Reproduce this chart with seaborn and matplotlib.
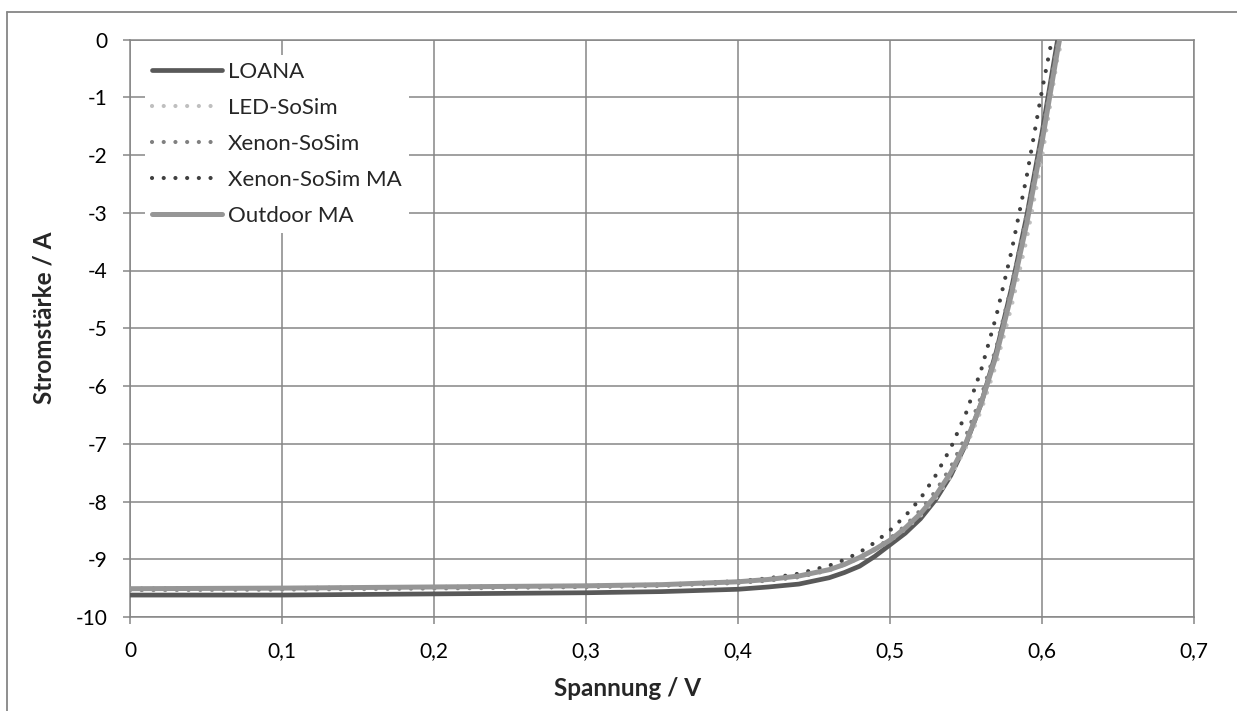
import matplotlib
matplotlib.use("Agg")
import matplotlib.pyplot as plt
import seaborn as sns
from matplotlib.lines import Line2D

sns.set_theme(style="white")
plt.rcParams['font.family'] = ['Lato', 'DejaVu Sans']

# ---- data ----
v_loana = [0.0, 0.1, 0.2, 0.3, 0.35, 0.4, 0.42, 0.44, 0.46, 0.47, 0.48, 0.49, 0.50, 0.51,
           0.52, 0.53, 0.54, 0.55, 0.56, 0.57, 0.58, 0.59, 0.60, 0.61, 0.612]
i_loana = [-9.62, -9.62, -9.60, -9.58, -9.56, -9.52, -9.48, -9.43, -9.32, -9.23, -9.12, -8.95,
           -8.75, -8.55, -8.30, -7.97, -7.55, -7.00, -6.30, -5.40, -4.30, -3.05, -1.62, -0.05, 0.2]

v_led = [0.0, 0.1, 0.2, 0.3, 0.35, 0.4, 0.42, 0.44, 0.46, 0.47, 0.48, 0.49, 0.50, 0.51,
         0.52, 0.53, 0.54, 0.55, 0.56, 0.57, 0.58, 0.59, 0.60, 0.61, 0.616]
i_led = [-9.54, -9.53, -9.51, -9.48, -9.45, -9.40, -9.36, -9.29, -9.18, -9.09, -8.98, -8.84,
         -8.68, -8.48, -8.25, -7.95, -7.56, -7.06, -6.42, -5.62, -4.62, -3.45, -2.05, -0.35, 0.3]

v_xenon = [0.0, 0.1, 0.2, 0.3, 0.35, 0.4, 0.42, 0.44, 0.46, 0.47, 0.48, 0.49, 0.50, 0.51,
           0.52, 0.53, 0.54, 0.55, 0.56, 0.57, 0.58, 0.59, 0.60, 0.61, 0.613]
i_xenon = [-9.53, -9.52, -9.50, -9.48, -9.46, -9.41, -9.37, -9.31, -9.19, -9.09, -8.97, -8.82,
           -8.64, -8.42, -8.15, -7.82, -7.40, -6.86, -6.18, -5.32, -4.25, -3.02, -1.65, -0.10, 0.2]

v_xenon_ma = [0.0, 0.1, 0.2, 0.3, 0.35, 0.4, 0.42, 0.44, 0.46, 0.47, 0.48, 0.49, 0.50, 0.51,
              0.52, 0.53, 0.54, 0.55, 0.56, 0.57, 0.58, 0.59, 0.60, 0.608]
i_xenon_ma = [-9.51, -9.50, -9.48, -9.46, -9.44, -9.38, -9.33, -9.25, -9.11, -9.01, -8.88, -8.71,
              -8.50, -8.25, -7.95, -7.55, -7.07, -6.47, -5.72, -4.78, -3.66, -2.36, -0.88, 0.2]

v_outdoor = [0.0, 0.1, 0.2, 0.3, 0.35, 0.4, 0.42, 0.44, 0.46, 0.47, 0.48, 0.49, 0.50, 0.51,
             0.52, 0.53, 0.54, 0.55, 0.56, 0.57, 0.58, 0.59, 0.60, 0.61, 0.613]
i_outdoor = [-9.51, -9.50, -9.48, -9.46, -9.44, -9.39, -9.35, -9.29, -9.18, -9.09, -8.97, -8.83,
             -8.67, -8.46, -8.21, -7.90, -7.50, -6.98, -6.30, -5.46, -4.40, -3.18, -1.78, -0.22, 0.2]

x_ticks = [0.0, 0.1, 0.2, 0.3, 0.4, 0.5, 0.6, 0.7]
x_ticklabels = ["0", "0,1", "0,2", "0,3", "0,4", "0,5", "0,6", "0,7"]
y_ticks = [0, -1, -2, -3, -4, -5, -6, -7, -8, -9, -10]
y_ticklabels = ["0", "-1", "-2", "-3", "-4", "-5", "-6", "-7", "-8", "-9", "-10"]

# ---- figure ----
W, H = 1237, 711
fig = plt.figure(figsize=(W / 100, H / 100), dpi=100)
ax = fig.add_axes([130 / W, 1 - 617 / H, (1194 - 130) / W, (617 - 39.5) / H])

dot = (0, (0.01, 2.8))
series = [
    (v_loana, i_loana, "LOANA", "#595959", "-", 3.4),
    (v_led, i_led, "LED-SoSim", "#bfbfbf", dot, 3.0),
    (v_xenon, i_xenon, "Xenon-SoSim", "#808080", dot, 3.0),
    (v_xenon_ma, i_xenon_ma, "Xenon-SoSim MA", "#404040", dot, 3.0),
    (v_outdoor, i_outdoor, "Outdoor MA", "#969696", "-", 3.6),
]
for vx, iy, lab, col, ls, lw in series:
    sns.lineplot(x=vx, y=iy, ax=ax, label=lab, color=col, linestyle=ls, linewidth=lw,
                 dash_capstyle="round", solid_capstyle="round", sort=False,
                 estimator=None, zorder=3)

ax.set_xlim(0, 0.7)
ax.set_ylim(-10, 0)
ax.set_xticks(x_ticks)
ax.set_xticklabels(x_ticklabels)
ax.set_yticks(y_ticks)
ax.set_yticklabels(y_ticklabels)

gcol = "#868686"
ax.grid(True, color=gcol, linewidth=1.1)
ax.set_axisbelow(True)
for s in ax.spines.values():
    s.set_color(gcol)
    s.set_linewidth(1.1)
ax.tick_params(axis="both", which="both", direction="out", length=5, width=1.1,
               color=gcol, labelsize=15, labelcolor="black",
               bottom=True, left=True)
ax.tick_params(axis="x", pad=12)
ax.tick_params(axis="y", pad=11)

ax.set_xlabel("Spannung / V", fontsize=17.5, fontweight="bold")
ax.set_ylabel("Stromstärke / A", fontsize=17.5, fontweight="bold")
ax.xaxis.set_label_coords((628 - 130) / 1064, -(677 - 617) / 577.5)
ax.yaxis.set_label_coords((56 - 130) / 1064, 1 - (318 - 39.5) / 577.5)

leg = ax.legend(loc="upper left", bbox_to_anchor=(0.004, 0.992), frameon=True,
                fontsize=16, handlelength=3.15, handletextpad=0.28,
                labelspacing=0.72, borderpad=0.3)
leg.get_frame().set_edgecolor("white")
leg.get_frame().set_facecolor("white")
leg.get_frame().set_alpha(1.0)
leg.get_frame().set_linewidth(0)

# outer chart border (left and top visible, right/bottom run off the image)
fig.add_artist(Line2D([7 / W, 7 / W], [-0.01, 1 - 12 / H], transform=fig.transFigure,
                      color=gcol, linewidth=1.3))
fig.add_artist(Line2D([7 / W, 1.01], [1 - 12 / H, 1 - 12 / H], transform=fig.transFigure,
                      color=gcol, linewidth=1.3))

fig.savefig("out.png", dpi=100, facecolor="white")
